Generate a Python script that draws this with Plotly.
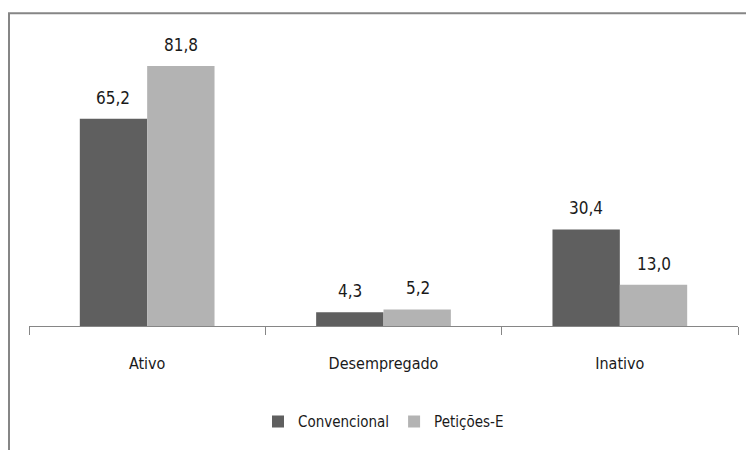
import plotly.graph_objects as go

categories = ["Ativo", "Desempregado", "Inativo"]
convencional = [65.2, 4.3, 30.4]
peticoes = [81.8, 5.2, 13.0]
series_names = ["Convencional", "Petições-E"]
colors = ["#5f5f5f", "#b3b3b3"]

FONT = "DejaVu Sans Condensed, DejaVu Sans, sans-serif"

# the page body adds an 8px offset, so the figure is sized to fit the window
W, H = 746, 442
ml, mr, mt, mb = 21, 16, 32, 120
pw, ph = W - ml - mr, H - mt - mb

fig = go.Figure()
for name, vals, col in zip(series_names, [convencional, peticoes], colors):
    fig.add_trace(go.Bar(name=name, x=categories, y=vals, marker_color=col,
                         marker_line_width=0))

def fmt(v):
    return f"{v:.1f}".replace(".", ",")

for i, vals in enumerate([convencional, peticoes]):
    shift = -34 if i == 0 else 34
    for c, v in zip(categories, vals):
        fig.add_annotation(x=c, y=v, text=fmt(v), showarrow=False,
                           xshift=shift, yshift=9, yanchor="bottom",
                           font=dict(family=FONT, size=17, color="#1a1a1a"))

# outer frame (cropped chart border)
fig.add_shape(type="rect", xref="paper", yref="paper",
              x0=(1 - ml) / pw, x1=(W + 10 - ml) / pw,
              y0=-(H + 10 - (mt + ph)) / ph, y1=1 + (mt - 5) / ph,
              line=dict(color="#868686", width=2), layer="below")

fig.update_layout(
    width=W, height=H,
    margin=dict(l=ml, r=mr, t=mt, b=mb),
    paper_bgcolor="white", plot_bgcolor="white",
    barmode="group", bargap=0.43, bargroupgap=0,
    font=dict(family=FONT, size=16, color="#1a1a1a"),
    showlegend=True,
    legend=dict(orientation="h", x=0.5, xanchor="center",
                y=-(419 - (mt + ph)) / ph, yanchor="middle",
                font=dict(family=FONT, size=15, color="#1a1a1a"),
                itemwidth=30, tracegroupgap=0),
    xaxis=dict(showline=True, linecolor="#868686", linewidth=1,
               ticks="outside", tickson="boundaries", ticklen=8,
               tickcolor="#868686", range=[-0.5, 2.5],
               tickfont=dict(family=FONT, size=16, color="#1a1a1a"),
               ticklabelstandoff=23, showgrid=False),
    yaxis=dict(range=[0, 90], visible=False, showgrid=False),
)

fig.write_html("out.html")
